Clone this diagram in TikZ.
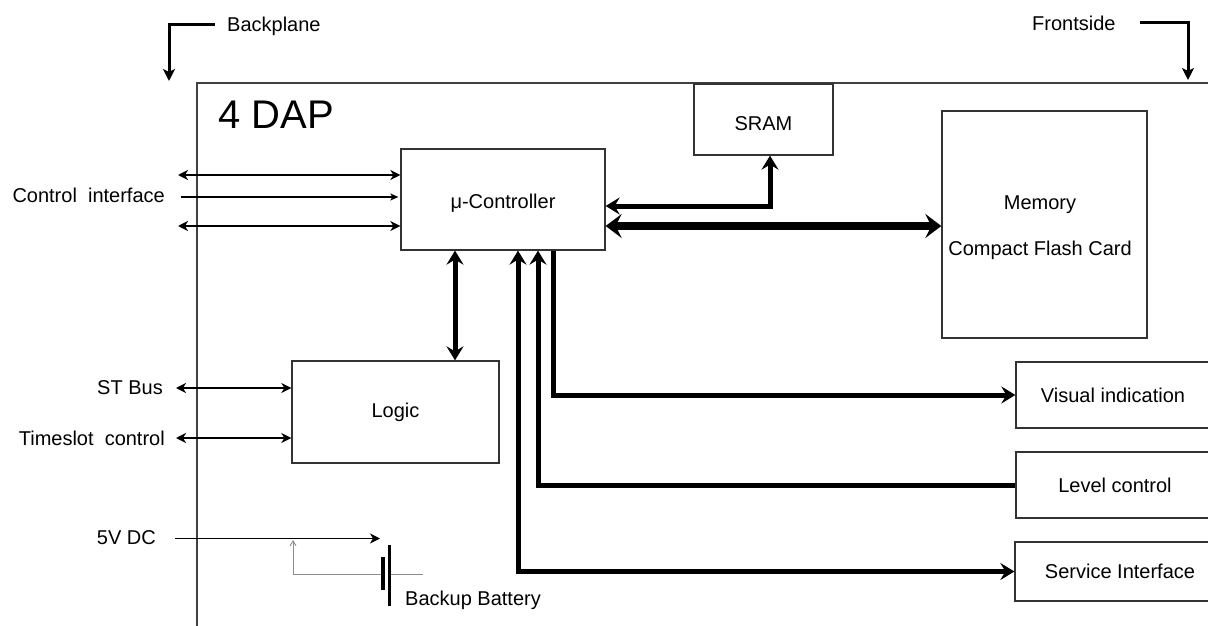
\documentclass[tikz,border=0pt]{standalone}
\usepackage{fontspec}
\setmainfont{Liberation Sans}
\usetikzlibrary{arrows.meta}
\tikzset{
  tipS/.tip={Stealth[length=10pt,width=10pt,inset=3pt]},
  tipM/.tip={Stealth[length=14pt,width=17pt,inset=5pt]},
  tipB/.tip={Stealth[length=16pt,width=24pt,inset=6pt]},
  tipT/.tip={Stealth[length=8pt,width=7pt,inset=2pt]},
  tipC/.tip={Stealth[length=12pt,width=12pt,inset=3pt]},
}
\begin{document}
\begin{tikzpicture}[x=1pt,y=-1pt,
  box/.style={draw=black!80, line width=1.3pt, rectangle, inner sep=0pt, font=\fontsize{20}{24}\selectfont},
  lbl/.style={font=\fontsize{20}{24}\selectfont, inner sep=0pt},
  thinline/.style={line width=1.3pt},
  midline/.style={line width=2.6pt},
  fatline/.style={line width=5pt},
  busline/.style={line width=8pt},
]
\useasboundingbox (0,0) rectangle (1208,626);
\clip (0,0) rectangle (1208,626);

% outer 4 DAP frame
\coordinate (fbl) at (197,640);
\coordinate (ftl) at (197,83);
\coordinate (ftr) at (1220,83);
\draw[draw=black!75, line width=1.5pt] (fbl) -- (ftl) -- (ftr);
\node[lbl, font=\fontsize{40}{46}\selectfont, anchor=west] (dap) at (218,115) {4 DAP};

% Backplane / Frontside
\coordinate (bpa) at (215,25);
\coordinate (bpb) at (169,25);
\coordinate (bpc) at (169,81);
\draw[line width=3pt, -{tipC}] (bpa) -- (bpb) -- (bpc);
\node[lbl, anchor=west] (bp) at (227,26) {Backplane};
\coordinate (fsa) at (1140,23);
\coordinate (fsb) at (1188,23);
\coordinate (fsc) at (1188,80);
\draw[line width=3pt, -{tipC}] (fsa) -- (fsb) -- (fsc);
\node[lbl, anchor=west] (fs) at (1032,23) {Frontside};

% boxes
\node[box, minimum width=204pt, minimum height=101pt, text height=17pt, text depth=0pt] (uc) at (503,199.5) {μ-Controller};
\node[box, minimum width=139pt, minimum height=71pt, text height=21pt, text depth=0pt] (sram) at (763.5,119.5) {SRAM};
\node[box, minimum width=205pt, minimum height=227pt] (mem) at (1044.5,224.5) {};
\node[lbl] (memt1) at (1040,205) {Memory};
\node[lbl] (memt2) at (1040,250) {Compact Flash Card};
\node[box, minimum width=207pt, minimum height=102pt] (logic) at (395.5,412) {Logic};
\node[box, minimum width=194pt, minimum height=66pt] (vis) at (1113,395) {Visual indication};
\node[box, minimum width=198pt, minimum height=66pt] (lev) at (1115,485) {Level control};
\node[box, minimum width=210pt, minimum height=59pt] (svc) at (1120,571.5) {Service Interface};

% control interface
\node[lbl, anchor=east] (ci) at (165,195) {Control\ \ interface};
\coordinate (ci1) at (178,175);
\coordinate (ci2) at (181,197);
\coordinate (ci3) at (178,226);
\draw[midline, tipS-tipS] (ci1) -- (uc.west |- ci1);
\draw[thinline, -tipT] (ci2) -- ([xshift=-2pt]uc.west |- ci2);
\draw[midline, tipS-tipS] (ci3) -- (uc.west |- ci3);

% ST bus, timeslot
\node[lbl, anchor=east] (st) at (163,388) {ST Bus};
\node[lbl, anchor=east] (ts) at (165,438) {Timeslot\ \ control};
\coordinate (st1) at (176,388);
\coordinate (ts1) at (176,438);
\draw[midline, tipS-tipS] (st1) -- (logic.west |- st1);
\draw[midline, tipS-tipS] (ts1) -- (logic.west |- ts1);

% SRAM and memory
\draw[fatline, tipM-tipM] (uc.east |- 0,206) -| (770,0 |- sram.south);
\draw[busline, tipB-tipB] (uc.east |- 0,226) -- (mem.west |- 0,226);

% uC - logic
\draw[fatline, tipM-tipM] (455,0 |- uc.south) -- (455,0 |- logic.north);

% lower lines
\draw[fatline, -tipM] (553,0 |- uc.south) |- (vis.west);
\draw[fatline, tipM-] (538,0 |- uc.south) |- (lev.west);
\draw[fatline, tipM-tipM] (518,0 |- uc.south) |- (svc.west);

% 5V DC and battery
\node[lbl, anchor=east] (v5) at (156,538) {5V DC};
\coordinate (v5a) at (175,538.5);
\coordinate (v5b) at (380,538.5);
\draw[thinline, -tipS] (v5a) -- (v5b);
\coordinate (bl1) at (389,545);
\coordinate (bl2) at (389,606);
\coordinate (bs1) at (383,557);
\coordinate (bs2) at (383,590);
\draw[line width=3pt] (bl1) -- (bl2);
\draw[line width=4pt] (bs1) -- (bs2);
\coordinate (gw) at (381,574);
\coordinate (gt) at (293,540);
\coordinate (ge1) at (390.5,574);
\coordinate (ge2) at (423,574);
\draw[black!45, line width=0.9pt, -{Straight Barb[length=5pt,width=6pt]}] (gw) -| (gt);
\draw[black!45, line width=0.9pt] (ge1) -- (ge2);
\node[lbl, anchor=west] (bb) at (405,600) {Backup Battery};
\end{tikzpicture}
\end{document}
